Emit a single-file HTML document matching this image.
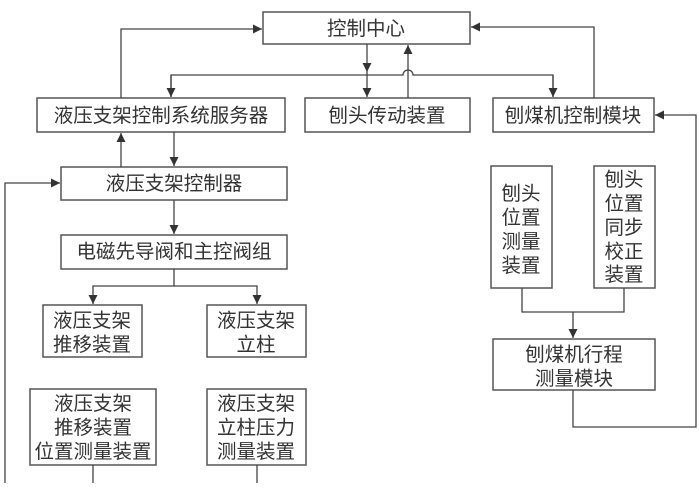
<!DOCTYPE html>
<html><head><meta charset="utf-8"><style>
body{margin:0;background:#fff;width:699px;height:483px;overflow:hidden}
text{font-family:"Liberation Sans","Noto Sans CJK SC",sans-serif;font-size:19.5px;fill:#333;text-anchor:middle}
</style></head><body>
<svg width="699" height="483" viewBox="0 0 699 483" xmlns="http://www.w3.org/2000/svg">
<defs><marker id="a" viewBox="0 0 10 10" refX="10" refY="5" markerWidth="7" markerHeight="7" orient="auto"><path d="M0,0L10,5L0,10z" fill="#333"/></marker></defs>
<g fill="#fff" stroke="#555" stroke-width="1.5">
<rect x="263" y="12" width="207" height="32"/>
<rect x="37" y="98" width="248" height="34"/>
<rect x="305" y="98" width="165" height="34"/>
<rect x="493" y="98" width="161" height="34"/>
<rect x="61" y="167" width="226" height="33"/>
<rect x="61" y="235" width="226" height="34"/>
<rect x="43" y="305" width="99" height="52"/>
<rect x="207" y="305" width="99" height="52"/>
<rect x="30" y="389" width="126" height="76"/>
<rect x="207" y="389" width="99" height="76"/>
<rect x="491" y="166" width="61" height="122"/>
<rect x="594" y="166" width="61" height="122"/>
<rect x="493" y="339" width="162" height="51"/>
</g>
<g fill="none" stroke="#444" stroke-width="1.3">
<path d="M121,98V29H262" marker-end="url(#a)"/>
<path d="M594,98V27H471" marker-end="url(#a)"/>
<path d="M367,44V72" marker-end="url(#a)"/>
<path d="M367,72V97" marker-end="url(#a)"/>
<path d="M408,98V45" marker-end="url(#a)"/>
<path d="M171,97V75H403A5,5 0 0 1 413,75H553V97"/>
<path d="M171,75V97" marker-end="url(#a)"/>
<path d="M553,75V97" marker-end="url(#a)"/>
<path d="M121,167V133" marker-end="url(#a)"/>
<path d="M174,132V166" marker-end="url(#a)"/>
<path d="M174,200V234" marker-end="url(#a)"/>
<path d="M174,269V286H93V304" marker-end="url(#a)"/>
<path d="M174,286H257V304" marker-end="url(#a)"/>
<path d="M5,483V183H60" marker-end="url(#a)"/>
<path d="M93,465V483M257,465V483"/>
<path d="M522,288V312H624V288"/>
<path d="M573,312V338" marker-end="url(#a)"/>
<path d="M573,390V427H696V115H655" marker-end="url(#a)"/>
</g>
<text x="366" y="35">控制中心</text>
<text x="161" y="122">液压支架控制系统服务器</text>
<text x="387" y="122">刨头传动装置</text>
<text x="573" y="122">刨煤机控制模块</text>
<text x="174" y="190">液压支架控制器</text>
<text x="174" y="258">电磁先导阀和主控阀组</text>
<text x="92" y="327">液压支架</text><text x="92" y="351">推移装置</text>
<text x="256" y="327">液压支架</text><text x="256" y="351">立柱</text>
<text x="93" y="410">液压支架</text><text x="93" y="434">推移装置</text><text x="93" y="458">位置测量装置</text>
<text x="256" y="410">液压支架</text><text x="256" y="434">立柱压力</text><text x="256" y="458">测量装置</text>
<text x="521" y="200">刨头</text><text x="521" y="224">位置</text><text x="521" y="248">测量</text><text x="521" y="272">装置</text>
<text x="624" y="186">刨头</text><text x="624" y="210">位置</text><text x="624" y="234">同步</text><text x="624" y="258">校正</text><text x="624" y="281">装置</text>
<text x="574" y="361">刨煤机行程</text><text x="574" y="385">测量模块</text>
</svg>
</body></html>
